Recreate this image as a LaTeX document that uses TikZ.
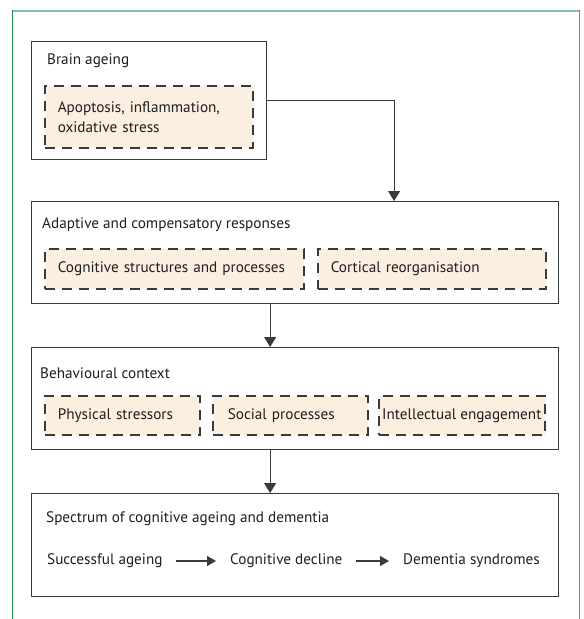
\documentclass[tikz,border=0pt]{standalone}
\usepackage{fontspec}
\setmainfont{PT Sans}
\usepackage{tikz}
\usetikzlibrary{arrows.meta,positioning}
\definecolor{ink}{HTML}{1E1E1E}
\definecolor{boxline}{HTML}{3A3A3A}
\definecolor{factorfill}{HTML}{FBEFE2}
\definecolor{ruletop}{HTML}{82C0A0}
\definecolor{ruleleft}{HTML}{238B4E}
\definecolor{ruleright}{HTML}{4E9E76}

\begin{document}
\begin{tikzpicture}[x=1pt,y=-1pt,
  panel/.style={draw=boxline,line width=1.2pt,anchor=north west,inner sep=0pt},
  factor/.style={draw=boxline,dash pattern=on 10pt off 7pt,line width=1.6pt,
    fill=factorfill,anchor=north west,inner xsep=13pt,inner ysep=0pt,align=left,
    text=ink},
  heading/.style={anchor=west,inner sep=0pt,text=ink},
  flow/.style={-{Triangle[length=10pt,width=12pt]},line width=1.2pt,draw=boxline},
  trend/.style={-{Triangle[length=9pt,width=10pt]},line width=1.1pt,draw=boxline,
    shorten <=13pt,shorten >=14pt},
  every node/.style={font=\fontsize{15.2}{20}\selectfont}]
\useasboundingbox (0,0) rectangle (584,619);
\draw[ruletop,line width=2pt] (12,11) -- (580,11);
\draw[ruleleft,line width=1.5pt] (12.5,10) -- (12.5,619);
\draw[ruleright,line width=1.5pt] (579.5,10) -- (579.5,619);

\node[panel,minimum width=235pt,minimum height=118pt] (brain) at (31,41) {};
\node[heading] (braintitle) at (47,61) {Brain ageing};
\node[factor,text width=182pt,minimum height=62pt] (stress) at (44,85)
  {Apoptosis, inflammation,\\oxidative stress};

\node[panel,minimum width=527pt,minimum height=102pt] (adaptive) at (31,201) {};
\node[heading] (adaptivetitle) at (42,225) {Adaptive and compensatory responses};
\node[factor,text width=233pt,minimum height=40pt] (cognitive) at (44,248)
  {Cognitive structures and processes};
\node[factor,text width=202pt,minimum height=40pt] (cortical) at (317,248)
  {Cortical reorganisation};

\node[panel,minimum width=527pt,minimum height=102pt] (context) at (31,347) {};
\node[heading] (contexttitle) at (40,373) {Behavioural context};
\node[factor,text width=129pt,minimum height=39pt] (physical) at (44,395)
  {Physical stressors};
\node[factor,minimum height=39pt,inner xsep=15pt,text width=125pt] (social) at (212,395)
  {Social processes};
\node[factor,minimum width=166pt,minimum height=39pt,inner xsep=0pt] (intellect) at (378,395)
  {Intellectual engagement};

\node[panel,minimum width=527pt,minimum height=103pt] (spectrum) at (31,493) {};
\node[heading] (spectrumtitle) at (46,519) {Spectrum of cognitive ageing and dementia};
\node[heading] (success) at (47,561) {Successful ageing};
\node[heading] (decline) at (230,561) {Cognitive decline};
\node[heading] (dementia) at (403,561) {Dementia syndromes};

% downward flow between the four panels
\draw[flow] (brain.east) -| ([xshift=99pt]adaptive.north);
\draw[flow] ([xshift=-25pt]adaptive.south) -- ([xshift=-25pt]context.north);
\draw[flow] ([xshift=-25pt]context.south) -- ([xshift=-25pt]spectrum.north);
\draw[trend] (success.east) -- (decline.west);
\draw[trend] (decline.east) -- (dementia.west);
\end{tikzpicture}
\end{document}
